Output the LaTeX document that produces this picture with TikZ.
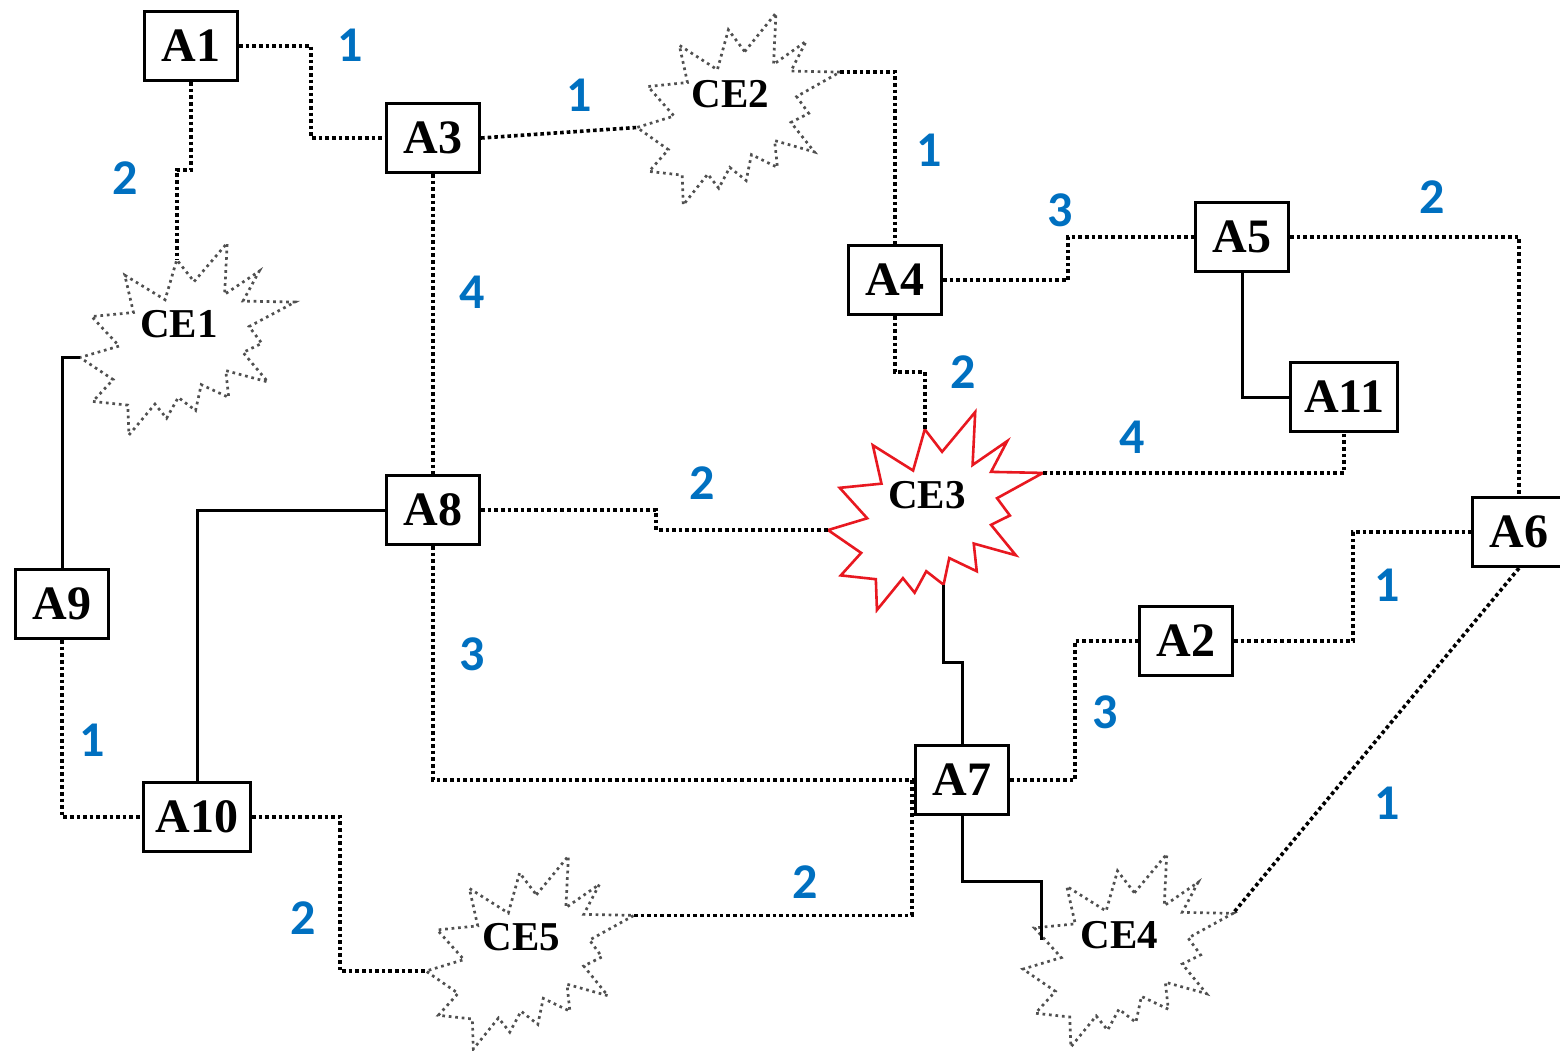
\documentclass[tikz,border=0pt]{standalone}
\usepackage{fontspec}
\setmainfont{Liberation Serif}
\newfontfamily\numfont{Carlito}
\usetikzlibrary{calc}
\definecolor{numblue}{RGB}{0,112,192}
\definecolor{redline}{RGB}{232,24,32}
\definecolor{grayline}{RGB}{80,80,80}

\newcommand{\ceburst}[7]{%
 \begin{scope}[shift={(#2,#3)}, xscale=#4, yscale=#5]
  \draw[#7] (0.5306,0.2010) -- (0.6847,0) -- (0.6725,0.2675) -- (0.8336,0.1469) -- (0.7583,0.3024) -- (1,0.3076) -- (0.7863,0.4353) -- (0.8458,0.5227) -- (0.7583,0.5699) -- (0.8739,0.7237) -- (0.6778,0.6644) -- (0.6918,0.8042) -- (0.5639,0.7377) -- (0.5376,0.8723) -- (0.4570,0.8042) -- (0.4028,0.9126) -- (0.3485,0.8391) -- (0.2276,1) -- (0.2225,0.8444) -- (0.0595,0.8252) -- (0.1542,0.7116) -- (0,0.5962) -- (0.1822,0.5367) -- (0.0543,0.3829) -- (0.2487,0.3619) -- (0.2084,0.1678) -- (0.3958,0.2955) -- (0.4501,0.0874) -- cycle;
  \node[celabel] (#1) at (0.46,0.42) {#6};
  \coordinate (#1-left) at (0,0.5962);
  \coordinate (#1-right) at (1,0.3076);
  \coordinate (#1-tip) at (0.4501,0.0874);
  \coordinate (#1-bot) at (0.5376,0.8723);
  \coordinate (#1-w) at (0.09,0.445);
 \end{scope}}

\tikzset{
 box/.style={draw, line width=3.2pt, fill=white, minimum width=93pt, minimum height=69pt, inner sep=2pt, font=\fontsize{48}{52}\selectfont\bfseries},
 widebox/.style={box, minimum width=107pt},
 celabel/.style={inner sep=0pt, font=\fontsize{41}{44}\selectfont\bfseries},
 num/.style={text=numblue, inner sep=0pt, font=\numfont\fontsize{50}{54}\selectfont\bfseries},
 dotline/.style={line width=3.6pt, dash pattern=on 3.6pt off 3pt},
 solidline/.style={line width=3pt},
 ceout/.style={draw=grayline, fill=white, line width=2.7pt, dash pattern=on 2.7pt off 3.8pt},
 ce3out/.style={draw=redline, fill=white, line width=2.6pt, line join=miter},
}

\begin{document}
\begin{tikzpicture}[x=1pt, y=-1pt]
\useasboundingbox (0,0) rectangle (1560,1050);

% starbursts
\ceburst{ce1}{80}{243}{215}{192}{CE1}{ceout}
\ceburst{ce2}{637}{13}{203}{192}{CE2}{ceout}
\ceburst{ce3}{828}{412}{215}{198}{CE3}{ce3out}
\ceburst{ce4}{1023}{854}{210}{193}{CE4}{ceout}
\ceburst{ce5}{426}{856}{208}{193}{CE5}{ceout}

% boxes
\node[box] (A1) at (191,46) {A1};
\node[box] (A3) at (433,138) {A3};
\node[box] (A4) at (895,280) {A4};
\node[box] (A5) at (1242,237) {A5};
\node[widebox] (A11) at (1344,397) {A11};
\node[box] (A6) at (1519,532) {A6};
\node[box] (A2) at (1186,641) {A2};
\node[box] (A7) at (962,780) {A7};
\node[box] (A8) at (433,510) {A8};
\node[box] (A9) at (62,604) {A9};
\node[widebox] (A10) at (197,817) {A10};

% connectors
\draw[dotline] (A1.east) -- ++(72,0) |- (A3.west);
\draw[dotline] (A1.south) -- ++(0,88) -| (ce1-tip);
\draw[dotline] (A3.east) -- (ce2-left);
\draw[dotline] (ce2-right) -| (A4.north);
\draw[dotline] (A3.south) -- (A8.north);
\draw[dotline] (A4.east) -- ++(125,0) |- (A5.west);
\draw[dotline] (A5.east) -| (A6.north);
\draw[solidline] (A5.south) |- (A11.west);
\draw[dotline] (A4.south) -- ++(0,56) -| (ce3-tip);
\draw[dotline] (ce3-right) -| (A11.south);
\draw[dotline] (A8.east) -- ++(175,0) |- (ce3-left);
\draw[solidline] (A8.west) -| (A10.north);
\draw[solidline] (ce1-left) -| (A9.north);
\draw[dotline] (A9.south) |- (A10.west);
\draw[dotline] (A8.south) |- (A7.west);
\draw[solidline] (ce3-bot) -- ++(0,78) -| (A7.north);
\draw[dotline] (A7.east) -- ++(65,0) |- (A2.west);
\draw[dotline] (A2.east) -- ++(119,0) |- (A6.west);
\draw[dotline] (A6.south) -- (ce4-right);
\draw[solidline] (A7.south) -- ++(0,65) -| (ce4-w);
\draw[dotline] (ce5-right) -| ($(A7.west)+(-2,0)$);
\draw[dotline] (A10.east) -- ++(88,0) |- (ce5-left);

% weights
\node[num] (w1) at (350,45) {1};
\node[num] (w2) at (125,178) {2};
\node[num] (w3) at (579,95) {1};
\node[num] (w4) at (929,150) {1};
\node[num] (w5) at (472,292) {4};
\node[num] (w6) at (1060,210) {3};
\node[num] (w7) at (1432,197) {2};
\node[num] (w8) at (963,372) {2};
\node[num] (w9) at (1132,437) {4};
\node[num] (w10) at (702,483) {2};
\node[num] (w11) at (1387,585) {1};
\node[num] (w12) at (472,654) {3};
\node[num] (w13) at (1105,712) {3};
\node[num] (w14) at (92,740) {1};
\node[num] (w15) at (1387,803) {1};
\node[num] (w16) at (805,882) {2};
\node[num] (w17) at (303,918) {2};
\end{tikzpicture}
\end{document}
